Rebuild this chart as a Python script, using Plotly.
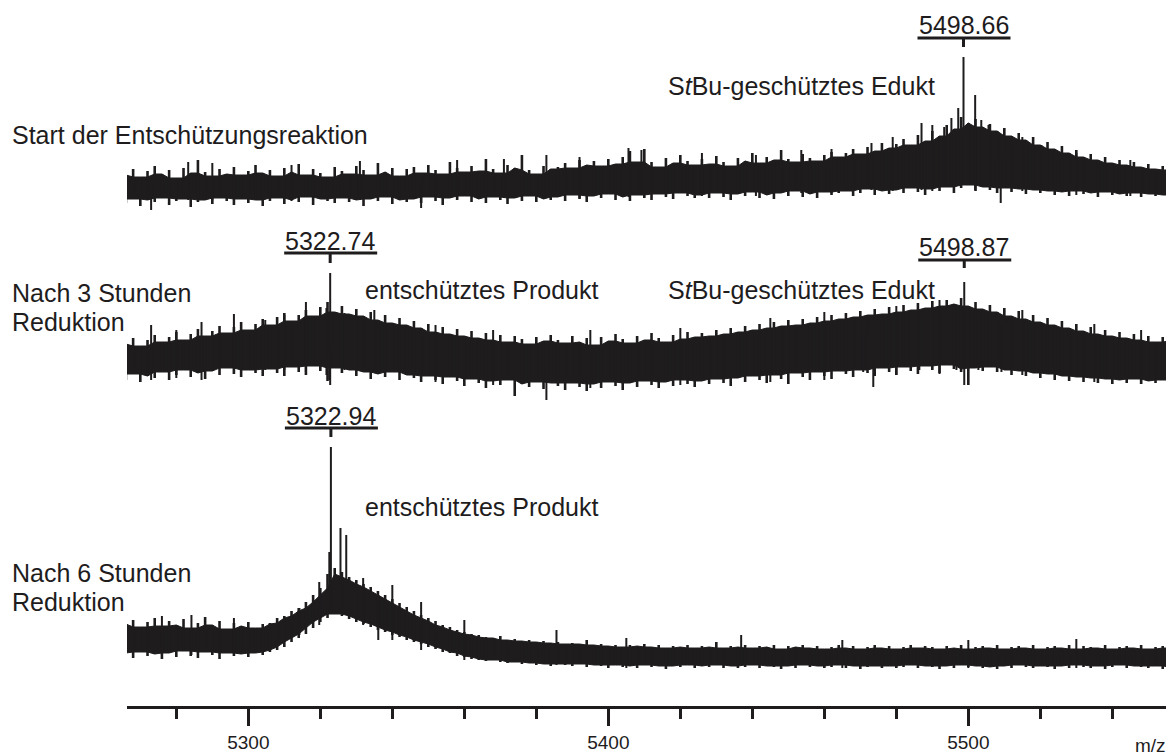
import plotly.graph_objects as go

# ---------------- data ----------------
MZ = [5266, 5268, 5270, 5272, 5274, 5276, 5278, 5280, 5282, 5284, 5286, 5288, 5290, 5292, 5294,
      5296, 5298, 5300, 5302, 5304, 5306, 5308, 5310, 5312, 5314, 5316, 5318, 5320, 5322, 5324,
      5326, 5328, 5330, 5332, 5334, 5336, 5338, 5340, 5342, 5344, 5346, 5348, 5350, 5352, 5354,
      5356, 5358, 5360, 5362, 5364, 5366, 5368, 5370, 5372, 5374, 5376, 5378, 5380, 5382, 5384,
      5386, 5388, 5390, 5392, 5394, 5396, 5398, 5400, 5402, 5404, 5406, 5408, 5410, 5412, 5414,
      5416, 5418, 5420, 5422, 5424, 5426, 5428, 5430, 5432, 5434, 5436, 5438, 5440, 5442, 5444,
      5446, 5448, 5450, 5452, 5454, 5456, 5458, 5460, 5462, 5464, 5466, 5468, 5470, 5472, 5474,
      5476, 5478, 5480, 5482, 5484, 5486, 5488, 5490, 5492, 5494, 5496, 5498, 5500, 5502, 5504,
      5506, 5508, 5510, 5512, 5514, 5516, 5518, 5520, 5522, 5524, 5526, 5528, 5530, 5532, 5534,
      5536, 5538, 5540, 5542, 5544, 5546, 5548, 5550, 5552, 5554, 5556]

# Spectrum 1: start of deprotection (upper / lower edge of the noise trace, a.u.)
S1_UPPER = [40, 46, 38, 44, 49, 41, 45, 37, 47, 42, 55, 43, 39, 46, 41, 48, 40, 44, 50, 42,
            45, 39, 47, 43, 51, 40, 46, 42, 38, 48, 44, 41, 49, 45, 40, 52, 43, 47, 39, 46,
            48, 42, 50, 45, 41, 53, 47, 43, 49, 44, 56, 46, 42, 50, 47, 60, 45, 41, 49, 46,
            48, 52, 47, 55, 50, 54, 49, 56, 51, 58, 64, 53, 66, 53, 48, 57, 52, 60, 54, 50,
            56, 51, 59, 53, 49, 57, 54, 62, 52, 58, 55, 65, 56, 53, 61, 57, 54, 60, 63, 58,
            62, 66, 61, 68, 64, 72, 67, 71, 76, 70, 80, 74, 84, 79, 90, 86, 98, 92, 96, 88,
            91, 84, 87, 79, 82, 75, 78, 70, 73, 66, 69, 62, 65, 58, 61, 55, 58, 52, 55, 50,
            53, 48, 51, 46, 49, 45]
S1_LOWER = [12, 16, 9, 15, 13, 17, 10, 14, 16, 8, 13, 15, 11, 17, 14, 10, 16, 12, 15, 9,
            14, 17, 11, 15, 13, 18, 10, 16, 14, 12, 17, 13, 15, 9, 16, 14, 18, 11, 15, 13,
            16, 12, 18, 14, 10, 17, 15, 19, 13, 16, 12, 18, 15, 11, 17, 14, 19, 13, 16, 15,
            18, 14, 20, 16, 13, 19, 17, 21, 15, 18, 14, 20, 17, 15, 21, 18, 16, 22, 19, 17,
            20, 17, 22, 18, 15, 21, 19, 23, 17, 20, 16, 22, 19, 24, 18, 21, 17, 23, 20, 22,
            24, 19, 22, 26, 20, 24, 21, 25, 22, 27, 23, 20, 26, 24, 28, 22, 27, 30, 24, 28,
            25, 22, 27, 23, 26, 21, 25, 22, 24, 20, 23, 19, 24, 21, 22, 18, 23, 20, 21, 19,
            22, 18, 21, 19, 20, 17]
S1_SPIKE_MZ = [5498.66, 5501.9, 5497.2, 5495.3, 5503.6, 5505.6, 5493.3, 5487.0, 5283.3,
               5382.8, 5405.6, 5409.2, 5453.6, 5473.1, 5520.3, 5273.0, 5348.0, 5509.0,
               5290.0, 5312.0, 5331.0, 5358.0, 5371.0, 5392.0, 5426.0, 5441.0, 5462.0,
               5479.0, 5490.0, 5515.0, 5530.0, 5545.0]
S1_SPIKE_LO = [30, 25, 30, 28, 28, 28, 28, 25, 15, 18, 18, 20, 22, 25, 25, 5, 7, 12,
               15, 14, 15, 16, 17, 17, 19, 19, 22, 24, 24, 24, 20, 19]
S1_SPIKE_HI = [158, 120, 107, 97, 95, 90, 88, 92, 53, 60, 67, 65, 65, 72, 70, 30, 30, 60,
               52, 50, 54, 55, 56, 58, 62, 60, 66, 78, 90, 78, 62, 55]

# Spectrum 2: after 3 h reduction
S2_UPPER = [66, 72, 64, 70, 75, 68, 73, 78, 70, 76, 81, 74, 79, 84, 77, 83, 88, 80, 86, 91,
            85, 93, 97, 89, 95, 100, 94, 103, 108, 98, 104, 96, 101, 94, 98, 90, 95, 87, 92, 85,
            89, 82, 86, 78, 83, 76, 81, 74, 79, 72, 77, 70, 75, 68, 74, 71, 66, 73, 69, 75,
            70, 67, 74, 68, 72, 65, 73, 69, 76, 71, 67, 74, 70, 77, 72, 68, 75, 71, 78, 73,
            77, 74, 80, 76, 82, 78, 84, 80, 86, 82, 88, 84, 90, 85, 91, 87, 93, 89, 95, 91,
            97, 93, 99, 95, 101, 96, 103, 98, 105, 100, 107, 102, 109, 104, 110, 106, 112, 104, 108, 101,
            105, 98, 102, 94, 99, 91, 95, 88, 92, 85, 89, 82, 86, 79, 83, 76, 80, 74, 78, 72,
            76, 70, 74, 68, 73, 69]
S2_LOWER = [30, 36, 28, 34, 32, 38, 30, 35, 40, 33, 37, 31, 39, 35, 42, 36, 33, 40, 37, 34,
            41, 37, 34, 43, 38, 35, 44, 39, 29, 42, 37, 40, 34, 38, 31, 36, 33, 38, 30, 35,
            32, 28, 34, 30, 26, 33, 29, 24, 31, 27, 22, 29, 25, 30, 14, 26, 23, 28, 21, 27,
            24, 20, 27, 23, 19, 26, 22, 28, 24, 20, 27, 23, 29, 25, 22, 28, 24, 30, 26, 23,
            29, 26, 31, 27, 24, 32, 28, 34, 30, 27, 35, 31, 26, 37, 33, 30, 38, 34, 31, 39,
            36, 33, 40, 37, 34, 42, 38, 35, 43, 39, 36, 44, 40, 37, 45, 41, 38, 25, 42, 39,
            43, 38, 40, 35, 39, 34, 37, 32, 36, 30, 34, 29, 33, 28, 32, 27, 31, 26, 30, 27,
            31, 26, 29, 27, 30, 26]
S2_SPIKE_MZ = [5322.74, 5310.0, 5321.7, 5326.7, 5322.5, 5304.7, 5382.8, 5470.8, 5486.4,
               5496.7, 5498.87, 5502.8, 5473.6, 5509.2, 5273.0, 5287.0,
               5280.0, 5296.0, 5316.0, 5335.0, 5352.0, 5368.0, 5395.0, 5420.0, 5445.0,
               5460.0, 5480.0, 5492.0, 5515.0, 5535.0, 5548.0]
S2_SPIKE_LO = [25, 40, 35, 40, 30, 40, 10, 38, 40, 40, 25, 40, 23, 38, 30, 30,
               32, 36, 38, 38, 28, 25, 22, 25, 28, 30, 35, 36, 35, 28, 26]
S2_SPIKE_HI = [137, 95, 102, 97, 60, 90, 40, 77, 91, 93, 128, 88, 50, 85, 85, 88,
               80, 96, 108, 100, 85, 80, 80, 82, 92, 98, 104, 110, 100, 86, 80]

# Spectrum 3: after 6 h reduction
S3_UPPER = [56, 60, 53, 58, 62, 54, 59, 55, 61, 52, 57, 63, 55, 59, 51, 57, 54, 58,
            52, 56, 57, 62, 64, 69, 72, 78, 85, 92, 106, 112,
            108, 103, 100, 96, 93, 89, 85, 81, 77, 73, 69, 65, 62, 59, 55, 53,
            50, 48, 46, 45, 43, 42, 44, 40, 41, 39, 40, 38, 39, 37, 38, 36, 37, 36, 40, 35,
            36, 34, 35, 33, 35, 34, 36, 33, 35, 32, 34, 33, 35, 32, 34, 33, 38, 32, 34, 33,
            35, 32, 34, 33, 35, 31, 34, 33, 35, 32, 34, 31, 33, 35, 32, 34, 31, 33, 35, 32,
            34, 31, 33, 35, 32, 34, 33, 31, 34, 32, 35, 31, 33, 34, 32, 35, 31, 33, 34, 32,
            35, 31, 33, 34, 32, 35, 31, 34, 33, 32, 35, 31, 33, 34, 32, 35, 31, 33, 34, 32]
S3_LOWER = [27, 22, 28, 24, 26, 21, 27, 23, 29, 24, 22, 28, 25, 21, 27, 24, 26, 23,
            27, 25, 28, 30, 33, 38, 42, 46, 52, 58, 62, 66,
            64, 61, 58, 56, 53, 50, 48, 45, 43, 40, 38, 36, 33, 31, 28, 27,
            24, 23, 21, 20, 19, 20, 18, 17, 18, 16, 17, 15, 16, 14, 16, 15, 14, 16, 13, 15,
            14, 12, 15, 13, 14, 12, 15, 13, 14, 11, 14, 13, 15, 12, 14, 13, 15, 12, 14, 12,
            13, 15, 12, 14, 13, 11, 14, 12, 15, 13, 14, 12, 13, 15, 12, 14, 11, 13, 14, 12,
            14, 12, 13, 15, 12, 14, 13, 11, 14, 12, 15, 13, 14, 12, 13, 11, 14, 12, 15, 13,
            12, 14, 13, 11, 14, 12, 15, 13, 12, 14, 11, 13, 15, 12, 14, 13, 12, 14, 11, 13]
S3_SPIKE_MZ = [5322.94, 5322.5, 5325.6, 5327.2, 5314.2, 5331.9, 5336.1, 5385.6, 5436.9,
               5284.2, 5319.7, 5276.0, 5296.0, 5340.0, 5348.0, 5360.0, 5405.0, 5465.0,
               5500.0, 5530.0]
S3_SPIKE_LO = [70, 70, 70, 65, 45, 55, 40, 15, 15, 25, 55, 25, 26, 40, 30, 20, 12, 12, 12, 12]
S3_SPIKE_HI = [233, 128, 152, 145, 72, 102, 85, 50, 45, 65, 98, 64, 62, 95, 78, 60, 42, 40, 40, 41]

PEAK_LABELS = ["5498.66", "5322.74", "5498.87", "5322.94"]
PEAK_MZ = [5498.66, 5322.74, 5498.87, 5322.94]

CONDITION_LINES = [["Start der Entschützungsreaktion"],
                   ["Nach 3 Stunden", "Reduktion"],
                   ["Nach 6 Stunden", "Reduktion"]]
SPECIES_1 = "S<i>t</i>Bu-geschütztes Edukt"
SPECIES_2 = "entschütztes Produkt"
X_TICKS = [5300, 5400, 5500]
X_UNIT = "m/z"

# ---------------- layout helpers ----------------
W, H = 1166, 755
ML, MR, MT, MB = 127, 0, 0, 48
PW, PH = W - ML - MR, H - MT - MB
X0 = 5266.3
X1 = X0 + PW / 3.6
INK = "#1e1c1d"
FONT = "Arial, Liberation Sans, sans-serif"


def fx(px):
    return (px - ML) / PW


def fy(py):
    return 1 - (py - MT) / PH


panels = [
    dict(bottom=215, top=45, upper=S1_UPPER, lower=S1_LOWER,
         smz=S1_SPIKE_MZ, slo=S1_SPIKE_LO, shi=S1_SPIKE_HI, ymax=170),
    dict(bottom=410, top=260, upper=S2_UPPER, lower=S2_LOWER,
         smz=S2_SPIKE_MZ, slo=S2_SPIKE_LO, shi=S2_SPIKE_HI, ymax=150),
    dict(bottom=680, top=435, upper=S3_UPPER, lower=S3_LOWER,
         smz=S3_SPIKE_MZ, slo=S3_SPIKE_LO, shi=S3_SPIKE_HI, ymax=245),
]

fig = go.Figure()
for k, p in enumerate(panels):
    yname = "y" if k == 0 else f"y{k + 1}"
    up, lo = p["upper"], p["lower"]
    n = len(MZ)
    # dense core of the trace: the part covered by all neighbouring samples
    core_up = [min(up[max(j - 1, 0):j + 2]) for j in range(n)]
    core_lo = [max(lo[max(j - 1, 0):j + 2]) for j in range(n)]
    fig.add_trace(go.Scatter(
        x=MZ + MZ[::-1], y=core_up + core_lo[::-1],
        mode="lines", fill="toself", fillcolor=INK,
        line=dict(color=INK, width=1), yaxis=yname, hoverinfo="skip", showlegend=False))
    # individual noise excursions of each sample
    xs, ys = [], []
    for m, a, b in zip(MZ, lo, up):
        xs += [m, m, None]
        ys += [a, b, None]
    fig.add_trace(go.Scatter(
        x=xs, y=ys, mode="lines", line=dict(color=INK, width=2.6),
        yaxis=yname, hoverinfo="skip", showlegend=False))
    # isolated spikes and labelled peaks
    xs, ys = [], []
    for m, a, b in zip(p["smz"], p["slo"], p["shi"]):
        xs += [m, m, None]
        ys += [a, b, None]
    fig.add_trace(go.Scatter(
        x=xs, y=ys, mode="lines", line=dict(color=INK, width=2),
        yaxis=yname, hoverinfo="skip", showlegend=False))

layout_axes = {}
for k, p in enumerate(panels):
    key = "yaxis" if k == 0 else f"yaxis{k + 1}"
    layout_axes[key] = dict(domain=[fy(p["bottom"]), fy(p["top"])], range=[0, p["ymax"]],
                            visible=False, fixedrange=True)

annotations = []
shapes = []

# peak labels: (text center y px, underline y px, tick bottom y px)
peak_pos = [(24, 38, 47), (240, 253, 263), (246, 260, 268), (415, 428, 437)]
for lab, m, (ty, uy, tb) in zip(PEAK_LABELS, PEAK_MZ, peak_pos):
    annotations.append(dict(x=m, xref="x", y=fy(ty + 1), yref="paper", text=lab,
                            showarrow=False, xanchor="center", yanchor="middle",
                            font=dict(family=FONT, size=25, color=INK)))
    shapes.append(dict(type="line", xref="x", xsizemode="pixel", xanchor=m, x0=-46, x1=47,
                       yref="paper", y0=fy(uy), y1=fy(uy), line=dict(color=INK, width=3)))
    shapes.append(dict(type="line", xref="x", xsizemode="pixel", xanchor=m, x0=0, x1=0,
                       yref="paper", y0=fy(uy), y1=fy(tb), line=dict(color=INK, width=3)))

cond_pos = [[135], [293, 322], [573, 602]]
for lines, ys in zip(CONDITION_LINES, cond_pos):
    for t, y in zip(lines, ys):
        annotations.append(dict(x=fx(10), xref="paper", y=fy(y), yref="paper", text=t,
                                showarrow=False, xanchor="left", yanchor="middle",
                                font=dict(family=FONT, size=25, color=INK)))

species = [(SPECIES_1, 666, 86), (SPECIES_1, 666, 290), (SPECIES_2, 363, 290), (SPECIES_2, 363, 507)]
for t, x, y in species:
    annotations.append(dict(x=fx(x), xref="paper", y=fy(y), yref="paper", text=t,
                            showarrow=False, xanchor="left", yanchor="middle",
                            font=dict(family=FONT, size=25, color=INK)))

annotations.append(dict(x=fx(1150), xref="paper", y=fy(745), yref="paper", text=X_UNIT,
                        showarrow=False, xanchor="center", yanchor="middle",
                        font=dict(family=FONT, size=19, color=INK)))

fig.update_layout(
    width=W, height=H,
    margin=dict(l=ML, r=MR, t=MT, b=MB),
    paper_bgcolor="white", plot_bgcolor="white",
    showlegend=False,
    xaxis=dict(range=[X0, X1], anchor="free", position=0, showgrid=False, zeroline=False,
               showline=True, linecolor=INK, linewidth=3,
               tickmode="array", tickvals=X_TICKS, ticktext=[str(v) for v in X_TICKS],
               ticks="outside", ticklen=17, tickwidth=3, tickcolor=INK,
               tickfont=dict(family=FONT, size=19, color=INK),
               minor=dict(tickmode="linear", tick0=5200, dtick=20, ticks="outside",
                          ticklen=10, tickwidth=3, tickcolor=INK, showgrid=False),
               fixedrange=True),
    annotations=annotations,
    shapes=shapes,
    **layout_axes,
)

fig.write_html("out.html")
